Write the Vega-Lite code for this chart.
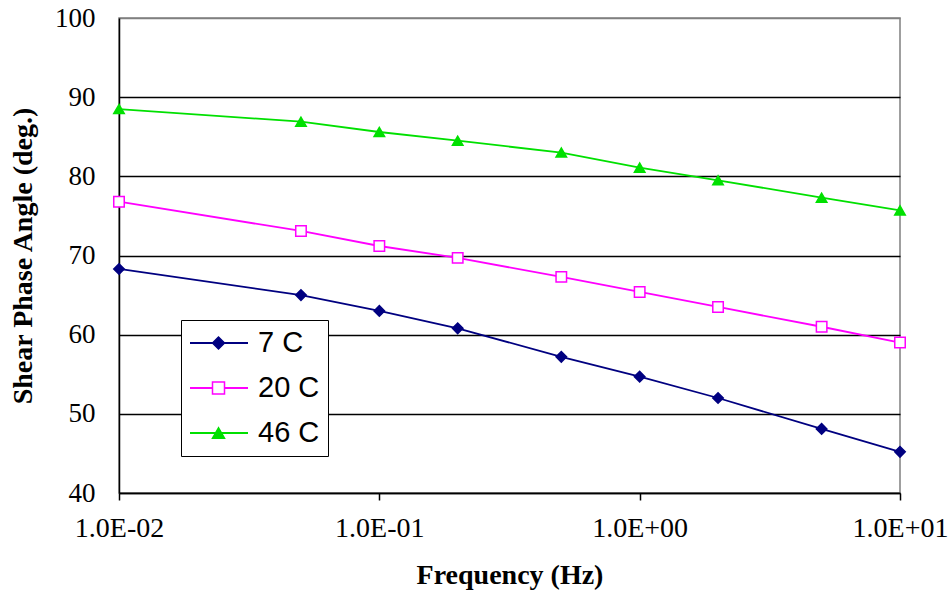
{
  "$schema": "https://vega.github.io/schema/vega-lite/v6.json",
  "width": 781,
  "height": 475,
  "autosize": {"type": "none"},
  "padding": {"left": 119, "top": 18, "right": 51, "bottom": 103},
  "background": "white",
  "config": {
    "view": {"stroke": "#808080", "strokeWidth": 1.5},
    "font": "Liberation Serif",
    "legend": {
      "orient": "none",
      "legendX": 62,
      "legendY": 302,
      "direction": "vertical",
      "clipHeight": 30,
      "labelFont": "Liberation Sans",
      "labelFontSize": 29,
      "rowPadding": 15,
      "padding": 8
    }
  },
  "data": {
    "values": [
      {"f": 0.01, "series": "7 C", "angle": 68.3},
      {"f": 0.05, "series": "7 C", "angle": 65.0},
      {"f": 0.1, "series": "7 C", "angle": 63.0},
      {"f": 0.2, "series": "7 C", "angle": 60.8},
      {"f": 0.5, "series": "7 C", "angle": 57.2},
      {"f": 1, "series": "7 C", "angle": 54.7},
      {"f": 2, "series": "7 C", "angle": 52.0},
      {"f": 5, "series": "7 C", "angle": 48.1},
      {"f": 10, "series": "7 C", "angle": 45.2},
      {"f": 0.01, "series": "20 C", "angle": 76.8},
      {"f": 0.05, "series": "20 C", "angle": 73.1},
      {"f": 0.1, "series": "20 C", "angle": 71.2},
      {"f": 0.2, "series": "20 C", "angle": 69.7},
      {"f": 0.5, "series": "20 C", "angle": 67.3},
      {"f": 1, "series": "20 C", "angle": 65.4},
      {"f": 2, "series": "20 C", "angle": 63.5},
      {"f": 5, "series": "20 C", "angle": 61.0},
      {"f": 10, "series": "20 C", "angle": 59.0},
      {"f": 0.01, "series": "46 C", "angle": 88.5},
      {"f": 0.05, "series": "46 C", "angle": 86.9},
      {"f": 0.1, "series": "46 C", "angle": 85.6},
      {"f": 0.2, "series": "46 C", "angle": 84.5},
      {"f": 0.5, "series": "46 C", "angle": 83.0},
      {"f": 1, "series": "46 C", "angle": 81.1},
      {"f": 2, "series": "46 C", "angle": 79.5},
      {"f": 5, "series": "46 C", "angle": 77.3},
      {"f": 10, "series": "46 C", "angle": 75.7}
    ]
  },
  "encoding": {
    "x": {
      "field": "f",
      "type": "quantitative",
      "scale": {"type": "log", "domain": [0.01, 10], "nice": false},
      "axis": {
        "title": "Frequency (Hz)",
        "values": [0.01, 0.1, 1, 10],
        "labelExpr": "datum.value < 0.05 ? '1.0E-02' : datum.value < 0.5 ? '1.0E-01' : datum.value < 5 ? '1.0E+00' : '1.0E+01'",
        "grid": false,
        "domainColor": "black",
        "domainWidth": 1.5,
        "tickColor": "black",
        "tickWidth": 1.5,
        "tickSize": 7,
        "labelFont": "Liberation Serif",
        "labelFontSize": 28,
        "labelColor": "black",
        "labelPadding": 14,
        "labelFlush": false,
        "labelOverlap": false,
        "titleFont": "Liberation Serif",
        "titleFontSize": 28,
        "titleFontWeight": "bold",
        "titleColor": "black",
        "titlePadding": 19
      }
    },
    "y": {
      "field": "angle",
      "type": "quantitative",
      "scale": {"domain": [40, 100], "nice": false, "zero": false},
      "axis": {
        "title": "Shear Phase Angle (deg.)",
        "values": [40, 50, 60, 70, 80, 90, 100],
        "ticks": false,
        "grid": true,
        "gridColor": {"condition": {"test": "datum.value == 100", "value": "#808080"}, "value": "black"},
        "gridWidth": 1.5,
        "gridOpacity": 1,
        "domainColor": "black",
        "domainWidth": 1.5,
        "labelFont": "Liberation Serif",
        "labelFontSize": 27,
        "labelColor": "black",
        "labelPadding": 24,
        "labelFlush": false,
        "titleFont": "Liberation Serif",
        "titleFontSize": 28,
        "titleFontWeight": "bold",
        "titleColor": "black",
        "titlePadding": 17
      }
    }
  },
  "layer": [
    {
      "mark": {"type": "line", "strokeWidth": 1.8},
      "encoding": {
        "stroke": {
          "field": "series",
          "type": "nominal",
          "sort": ["7 C", "20 C", "46 C"],
          "scale": {"range": ["#000080", "#ff00ff", "#00e000"]},
          "legend": {
            "title": null,
            "symbolType": "M-1,0H1",
            "symbolSize": 3364,
            "symbolStrokeWidth": 1.8,
            "labelOffset": 9,
            "labelColor": "black",
            "strokeColor": "black",
            "fillColor": "white"
          }
        }
      }
    },
    {
      "mark": {"type": "point", "filled": false, "size": 110, "strokeWidth": 1.5, "opacity": 1},
      "encoding": {
        "color": {
          "field": "series",
          "type": "nominal",
          "scale": {"domain": ["7 C", "20 C", "46 C"], "range": ["#000080", "#ff00ff", "#00e000"]},
          "legend": {
            "title": null,
            "symbolSize": 144,
            "symbolOffset": 15,
            "symbolStrokeWidth": 1.5,
            "labelOffset": 9,
            "labelExpr": "''"
          }
        },
        "shape": {
          "field": "series",
          "type": "nominal",
          "scale": {"domain": ["7 C", "20 C", "46 C"], "range": ["diamond", "square", "triangle-up"]},
          "legend": {
            "title": null,
            "symbolSize": 144,
            "symbolOffset": 15,
            "symbolStrokeWidth": 1.5,
            "labelOffset": 9,
            "labelExpr": "''"
          }
        },
        "fill": {
          "field": "series",
          "type": "nominal",
          "scale": {"domain": ["7 C", "20 C", "46 C"], "range": ["#000080", "white", "#00e000"]},
          "legend": {
            "title": null,
            "symbolSize": 144,
            "symbolOffset": 15,
            "symbolStrokeWidth": 1.5,
            "labelOffset": 9,
            "labelExpr": "''"
          }
        }
      }
    }
  ]
}
